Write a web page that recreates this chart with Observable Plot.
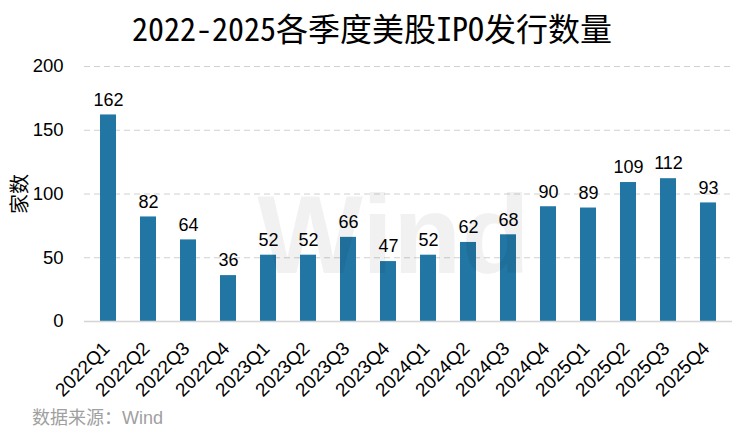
<!DOCTYPE html>
<html>
<head>
<meta charset="utf-8">
<script src="https://cdn.jsdelivr.net/npm/d3@7"></script>
<script src="https://cdn.jsdelivr.net/npm/@observablehq/plot@0.6"></script>
<style>
  html, body { margin: 0; padding: 0; background: #fff; }
  #wrap { width: 744px; height: 444px; position: relative; overflow: hidden; }
  #title { height: 52px; line-height: 54px; text-align: center; font-size: 32px; color: #000;
    font-family: "Noto Sans Mono CJK SC", "Noto Sans CJK SC", monospace; }
  #caption { position: absolute; left: 32px; top: 404px; height: 28px; line-height: 28px; font-size: 18px; color: #a0a0a0;
    font-family: "Liberation Sans", "Noto Sans CJK SC", sans-serif; }
  svg { display: block; }
  svg [aria-label="y-axis label"] text { font-size: 20px; font-family: "Noto Sans CJK SC", sans-serif; }
</style>
</head>
<body>
<div id="wrap">
  <div id="title">2022-2025各季度美股IPO发行数量</div>
  <div id="chart"></div>
  <div id="caption">数据来源：Wind</div>
</div>
<script>
const quarters = ["2022Q1","2022Q2","2022Q3","2022Q4","2023Q1","2023Q2","2023Q3","2023Q4",
                  "2024Q1","2024Q2","2024Q3","2024Q4","2025Q1","2025Q2","2025Q3","2025Q4"];
const counts = [162, 82, 64, 36, 52, 52, 66, 47, 52, 62, 68, 90, 89, 109, 112, 93];
const yTicks = [0, 50, 100, 150, 200];
const yLabel = "家数";
const watermark = "Wind";

const data = quarters.map((q, i) => ({q, v: counts[i]}));

const chart = Plot.plot({
  width: 744,
  height: 350,
  marginTop: 14,
  marginBottom: 81,
  marginLeft: 84,
  marginRight: 12,
  style: {fontFamily: "'Liberation Sans', Arial, sans-serif", fontSize: "18px", color: "#000", background: "transparent"},
  x: {domain: quarters, paddingInner: 0.6, paddingOuter: 0.3, label: null},
  y: {domain: [0, 200], label: null},
  marks: [
    Plot.gridY(yTicks.filter(d => d > 0), {stroke: "#d0d0d0", strokeOpacity: 1, strokeDasharray: "6,4"}),
    Plot.axisY({ticks: yTicks, tickSize: 0, tickPadding: 21, label: yLabel, labelAnchor: "center", labelArrow: "none", labelOffset: 72, fontSize: 18.5}),
    Plot.axisX({tickSize: 0, tickPadding: 24, tickRotate: -45, fontSize: 19, label: null, dx: -2}),
    Plot.barY(data, {x: "q", y: "v", fill: "#2276a4"}),
    Plot.ruleY([0], {stroke: "#d4d4d4", strokeWidth: 1.5}),
    Plot.text([watermark], {frameAnchor: "middle", dx: -15, dy: 43, text: d => d, fontSize: 112, fontWeight: "bold", fill: "#000", fillOpacity: 0.055}),
    Plot.text(data, {x: "q", y: "v", text: d => String(d.v), dy: -15, fontSize: 18, fill: "#000"})
  ]
});
document.getElementById("chart").appendChild(chart);
</script>
</body>
</html>
